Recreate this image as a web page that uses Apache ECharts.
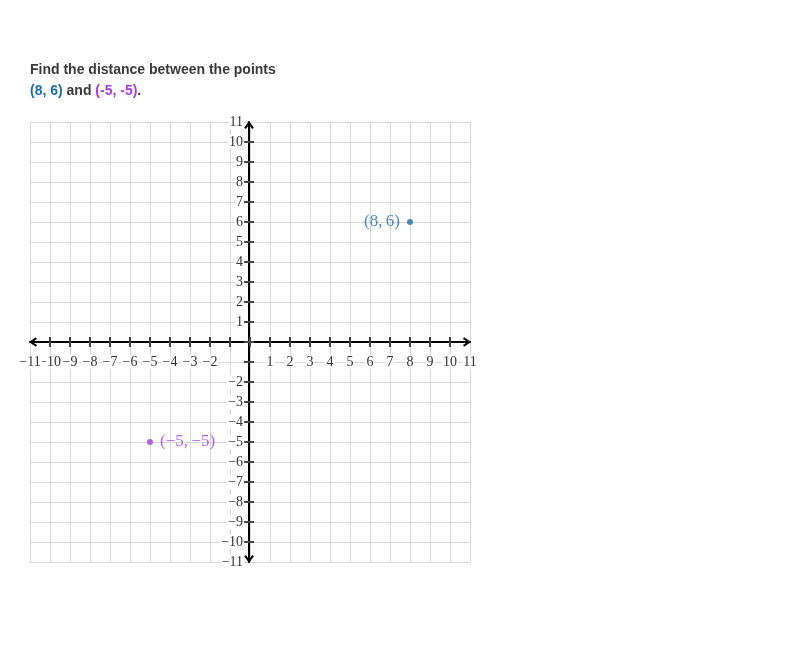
<!DOCTYPE html>
<html><head><meta charset="utf-8">
<script src="https://cdn.jsdelivr.net/npm/echarts@6/dist/echarts.min.js"></script>
<style>html,body{margin:0;padding:0;background:#fff}#c{width:800px;height:659px}</style>
</head><body><div id="c"></div>
<script>
// ---- data ----
const axisMin = -11, axisMax = 11;
const tickValues = [-10,-9,-8,-7,-6,-5,-4,-3,-2,-1,0,1,2,3,4,5,6,7,8,9,10];
const xLabelValues = [-11,-10,-9,-8,-7,-6,-5,-4,-3,-2,1,2,3,4,5,6,7,8,9,10,11];
const yLabelValues = [-11,-10,-9,-8,-7,-6,-5,-4,-3,-2,1,2,3,4,5,6,7,8,9,10,11];
const pointX = [8, -5];
const pointY = [6, -5];
const pointLabels = ['(8,\u20096)', '(\u22125,\u2009\u22125)'];
const pointColors = ['#1c6ea8', '#a63cdc'];
const pointLabelSide = ['left', 'right'];
const titleLine1 = 'Find the distance between the points';
const titleA = '(8, 6)', titleB = '(-5, -5)';

const chevron = 'path://M0,8.5 L6,0 L12,8.5 L9.9,10 L6,4.4 L2.1,10 Z';
const serif = '"Liberation Serif", "DejaVu Serif", serif';
const fmt = v => (v < 0 ? '\u2212' + Math.abs(v) : String(v));
// x labels are shared between two axes (odd / even) so that crowded neighbours are never auto-hidden
const xLabelsOdd = xLabelValues.filter(v => Math.abs(v) % 2 === 1);
const xLabelsEven = xLabelValues.filter(v => Math.abs(v) % 2 === 0);

function labelStyle(vals, margin) {
  return { show: vals.length > 0, customValues:vals, formatter:fmt, margin:margin, inside:false,
    showMinLabel:true, showMaxLabel:true, hideOverlap:false,
    fontFamily:serif, fontSize:14, color:'#333', backgroundColor:'#fff', padding:[0,1] };
}
function gridAxis() {
  return { type:'value', min:axisMin, max:axisMax, interval:1,
    axisLine:{show:false, onZero:false}, axisTick:{show:false}, axisLabel:{show:false},
    splitLine:{show:true, lineStyle:{color:'#d6d6d6', width:1}} };
}
function mainAxis(pos, labelVals, margin) {
  return { type:'value', position:pos, min:axisMin, max:axisMax, interval:1, offset:0,
    axisLine:{show:true, onZero:false, lineStyle:{color:'#000', width:2},
      symbol:[chevron, chevron], symbolSize:[13,8], symbolOffset:[3,-3]},
    axisTick:{show:true, inside:false, length:5, customValues:tickValues, lineStyle:{color:'#444', width:2}},
    axisLabel:labelStyle(labelVals, margin),
    splitLine:{show:false} };
}
function innerTickAxis(pos, labelVals, margin) {
  return { type:'value', position:pos, min:axisMin, max:axisMax, interval:1, offset:0,
    axisLine:{show:false, onZero:false},
    axisTick:{show:true, inside:true, length:5, customValues:tickValues, lineStyle:{color:'#444', width:2}},
    axisLabel:labelStyle(labelVals, margin), splitLine:{show:false} };
}

const chart = echarts.init(document.getElementById('c'), null, {renderer:'canvas'});
const xAxes = [ gridAxis(), mainAxis('bottom', xLabelsEven, 13), innerTickAxis('bottom', xLabelsOdd, 13) ];
const yAxes = [ gridAxis(), mainAxis('left', yLabelValues, 5), innerTickAxis('left', [], 5) ];
chart.setOption({
  animation:false,
  title:{ left:30, top:60, padding:0,
    text: titleLine1 + '\n{a|' + titleA + '} and {b|' + titleB + '}.',
    textStyle:{ fontFamily:'"Liberation Sans", Arial, sans-serif', fontSize:14, fontWeight:'bold', color:'#3a3a3a', lineHeight:21,
      rich:{ a:{color:pointColors[0], fontWeight:'bold', fontSize:14, fontFamily:'"Liberation Sans", Arial, sans-serif'},
             b:{color:pointColors[1], fontWeight:'bold', fontSize:14, fontFamily:'"Liberation Sans", Arial, sans-serif'} } } },
  grid:{ left:30, top:122, width:440, height:440 },
  xAxis: xAxes,
  yAxis: yAxes,
  series: pointX.map((x, i) => ({
    type:'scatter', xAxisIndex:1, yAxisIndex:1, symbolSize:6, z:10,
    itemStyle:{color:pointColors[i]},
    data:[[x, pointY[i]]],
    label:{ show:true, position:pointLabelSide[i], distance:7, formatter:pointLabels[i],
      fontFamily:serif, fontSize:17, color:pointColors[i] }
  }))
});
// place the axes through the origin using the library's own scales
const origin = chart.convertToPixel({xAxisIndex:0, yAxisIndex:0}, [0, 0]);
const left = chart.convertToPixel({xAxisIndex:0}, axisMin);
const bottom = chart.convertToPixel({yAxisIndex:0}, axisMin);
const xOff = origin[1] - bottom;   // bottom axis moved up to y = 0
const yOff = left - origin[0];     // left axis moved right to x = 0
chart.setOption({
  xAxis: [{}, {offset:xOff}, {offset:xOff}],
  yAxis: [{}, {offset:yOff}, {offset:yOff}]
});
</script></body></html>
